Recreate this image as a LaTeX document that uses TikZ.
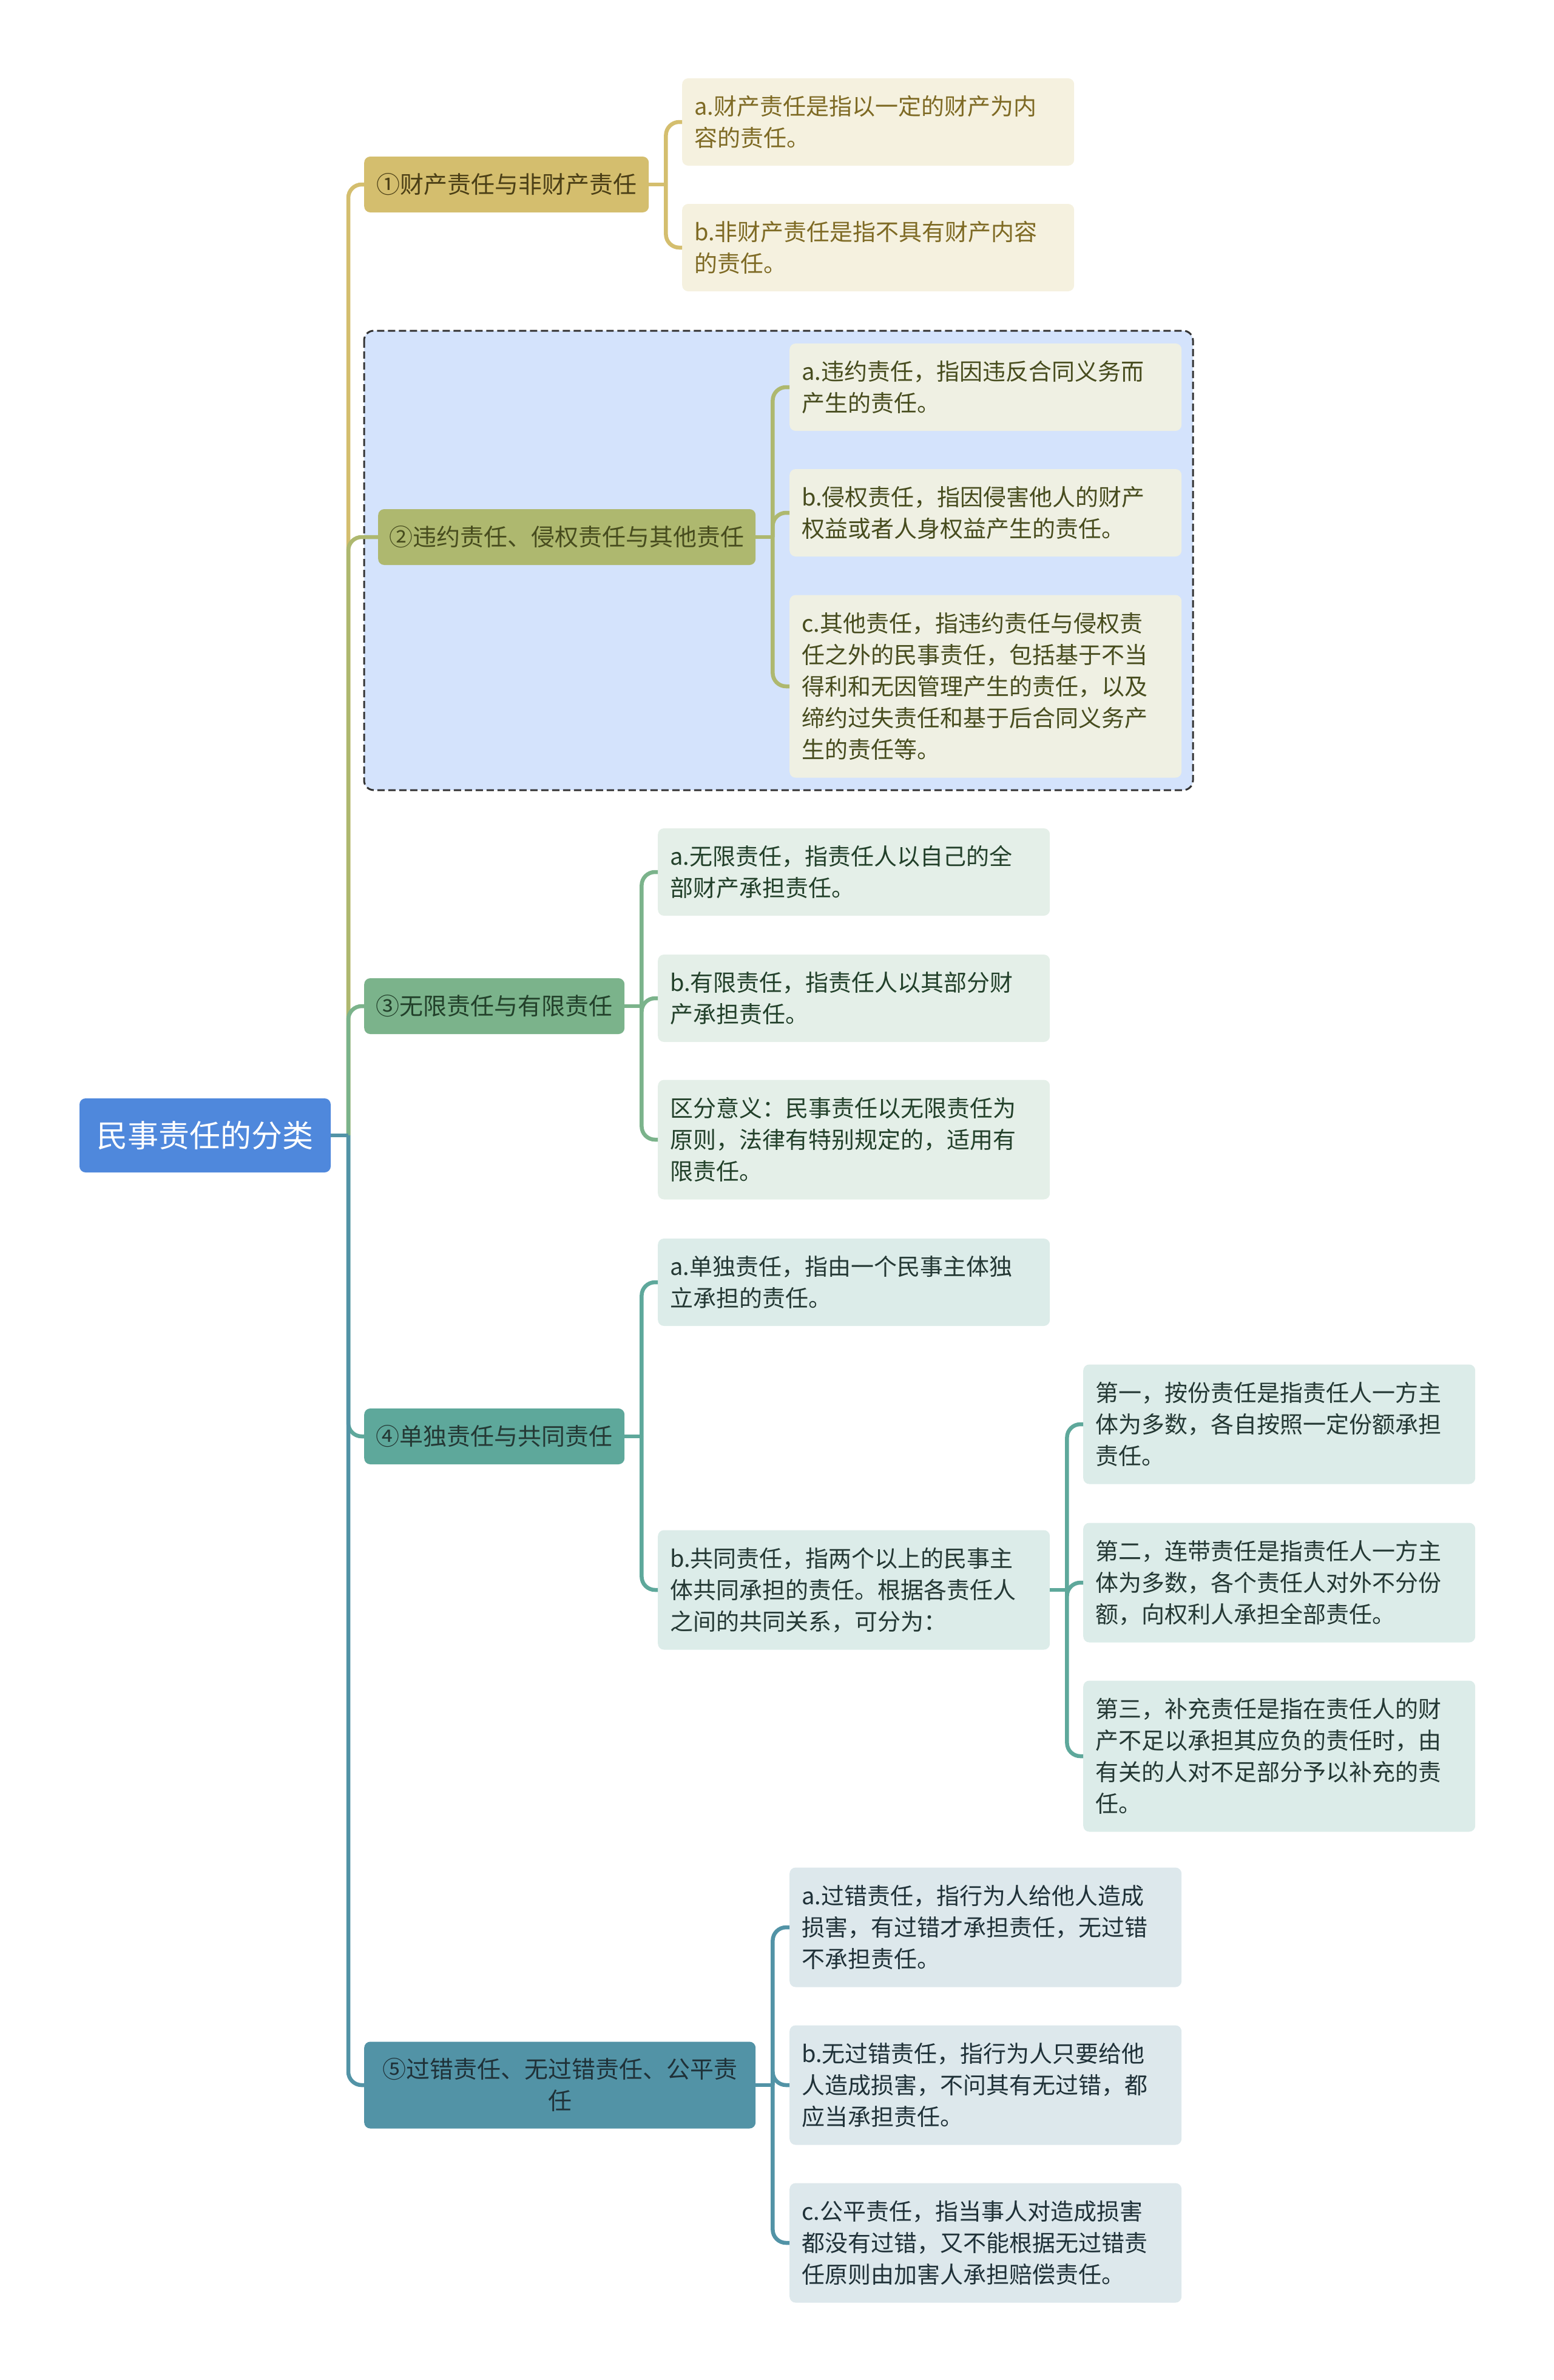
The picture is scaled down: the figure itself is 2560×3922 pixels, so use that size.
\documentclass[tikz,border=0pt]{standalone}
\usepackage{fontspec}
\setmainfont{Noto Sans CJK SC}
\definecolor{cRoot}{HTML}{4F88DC}
\definecolor{cA}{HTML}{D4BE6E}   \definecolor{cAl}{HTML}{F5F1DF} \definecolor{cAt}{HTML}{7E6A24}
\definecolor{cB}{HTML}{AEB86F}   \definecolor{cBl}{HTML}{EFF0E3} \definecolor{cBt}{HTML}{474C1E}
\definecolor{cC}{HTML}{7BB38B}   \definecolor{cCl}{HTML}{E4EFE8} \definecolor{cCt}{HTML}{22402A}
\definecolor{cD}{HTML}{5EA89B}   \definecolor{cDl}{HTML}{DCECE9} \definecolor{cDt}{HTML}{243834}
\definecolor{cE}{HTML}{5293A6}   \definecolor{cEl}{HTML}{DDE8EC} \definecolor{cEt}{HTML}{1F3138}
\definecolor{cGrp}{HTML}{D4E3FC}
\begin{document}
\begin{tikzpicture}[x=1pt,y=-1pt,
    leaf/.style={rectangle,rounded corners=10pt,anchor=west,align=left,
      text width=606pt,inner xsep=20pt,inner ysep=0pt,
      font=\fontsize{38}{52}\selectfont},
    l2/.style={minimum height=144pt},
    l3/.style={minimum height=197pt},
    l4/.style={minimum height=249pt},
    l5/.style={minimum height=301pt},
    brn/.style={rectangle,rounded corners=10pt,anchor=west,align=center,
      inner sep=0pt,minimum height=92pt,font=\fontsize{39}{52}\selectfont},
    lk/.style={line width=6.5pt,rounded corners=22pt},
    grp/.style={fill=cGrp,draw=black!80,line width=3pt,
      dash pattern=on 12pt off 6pt,rounded corners=16pt}]
  \useasboundingbox (0,0) rectangle (2560,3922);
  % group frame behind branch 2
  \draw[grp] (600,545) rectangle (1966,1302);
  % root
  \node[fill=cRoot,text=white,rounded corners=10pt,minimum width=414pt,
    minimum height=122pt,inner sep=0pt,font=\fontsize{51}{60}\selectfont]
    (root) at (338,1871) {民事责任的分类};
  % branches
  \node[brn,fill=cA,text=cAt!60!black,minimum width=469pt] (b1) at (600,304)
    {①财产责任与非财产责任};
  \node[brn,fill=cB,text=cBt,minimum width=622pt] (b2) at (623,885)
    {②违约责任、侵权责任与其他责任};
  \node[brn,fill=cC,text=cCt,minimum width=429pt] (b3) at (600,1658)
    {③无限责任与有限责任};
  \node[brn,fill=cD,text=cDt,minimum width=429pt] (b4) at (600,2367)
    {④单独责任与共同责任};
  \node[brn,fill=cE,text=cEt,minimum width=645pt,minimum height=143pt,
    text width=605pt] (b5) at (600,3436)
    {⑤过错责任、无过错责任、公平责\\任};
  % leaves of branch 1
  \node[leaf,l2,fill=cAl,text=cAt] (b1a) at (1124,201)
    {a.财产责任是指以一定的财产为内\\容的责任。};
  \node[leaf,l2,fill=cAl,text=cAt] (b1b) at (1124,408)
    {b.非财产责任是指不具有财产内容\\的责任。};
  % leaves of branch 2
  \node[leaf,l2,fill=cBl,text=cBt] (b2a) at (1301,638)
    {a.违约责任，指因违反合同义务而\\产生的责任。};
  \node[leaf,l2,fill=cBl,text=cBt] (b2b) at (1301,845)
    {b.侵权责任，指因侵害他人的财产\\权益或者人身权益产生的责任。};
  \node[leaf,l5,fill=cBl,text=cBt] (b2c) at (1301,1131)
    {c.其他责任，指违约责任与侵权责\\任之外的民事责任，包括基于不当\\得利和无因管理产生的责任，以及\\缔约过失责任和基于后合同义务产\\生的责任等。};
  % leaves of branch 3
  \node[leaf,l2,fill=cCl,text=cCt] (b3a) at (1084,1437)
    {a.无限责任，指责任人以自己的全\\部财产承担责任。};
  \node[leaf,l2,fill=cCl,text=cCt] (b3b) at (1084,1645)
    {b.有限责任，指责任人以其部分财\\产承担责任。};
  \node[leaf,l3,fill=cCl,text=cCt] (b3c) at (1084,1878)
    {区分意义：民事责任以无限责任为\\原则，法律有特别规定的，适用有\\限责任。};
  % leaves of branch 4
  \node[leaf,l2,fill=cDl,text=cDt] (b4a) at (1084,2113)
    {a.单独责任，指由一个民事主体独\\立承担的责任。};
  \node[leaf,l3,fill=cDl,text=cDt] (b4b) at (1084,2620)
    {b.共同责任，指两个以上的民事主\\体共同承担的责任。根据各责任人\\之间的共同关系，可分为：};
  \node[leaf,l3,fill=cDl,text=cDt] (b4b1) at (1785,2347)
    {第一，按份责任是指责任人一方主\\体为多数，各自按照一定份额承担\\责任。};
  \node[leaf,l3,fill=cDl,text=cDt] (b4b2) at (1785,2608)
    {第二，连带责任是指责任人一方主\\体为多数，各个责任人对外不分份\\额，向权利人承担全部责任。};
  \node[leaf,l4,fill=cDl,text=cDt] (b4b3) at (1785,2894)
    {第三，补充责任是指在责任人的财\\产不足以承担其应负的责任时，由\\有关的人对不足部分予以补充的责\\任。};
  % leaves of branch 5
  \node[leaf,l3,fill=cEl,text=cEt] (b5a) at (1301,3176)
    {a.过错责任，指行为人给他人造成\\损害，有过错才承担责任，无过错\\不承担责任。};
  \node[leaf,l3,fill=cEl,text=cEt] (b5b) at (1301,3436)
    {b.无过错责任，指行为人只要给他\\人造成损害，不问其有无过错，都\\应当承担责任。};
  \node[leaf,l3,fill=cEl,text=cEt] (b5c) at (1301,3696)
    {c.公平责任，指当事人对造成损害\\都没有过错，又不能根据无过错责\\任原则由加害人承担赔偿责任。};
  % trunk from the root
  \coordinate (t) at (574,1871);
  \foreach \b/\col in {b1/cA, b2/cB, b3/cC, b4/cD, b5/cE}
    \draw[lk,\col] (t) |- (\b.west);
  \draw[lk,cE] (root.east) -- (t);
  % forks to the leaves
  \foreach \p/\col in {b1/cA, b2/cB, b3/cC, b4/cD, b5/cE}
    \coordinate (j\p) at ([xshift=28pt]\p.east);
  \foreach \c in {b1a,b1b} \draw[lk,cA] (jb1) |- (\c.west);
  \foreach \c in {b2a,b2b,b2c} \draw[lk,cB] (jb2) |- (\c.west);
  \foreach \c in {b3a,b3b,b3c} \draw[lk,cC] (jb3) |- (\c.west);
  \foreach \c in {b4a,b4b} \draw[lk,cD] (jb4) |- (\c.west);
  \foreach \c in {b5a,b5b,b5c} \draw[lk,cE] (jb5) |- (\c.west);
  \draw[lk,cA] (b1.east) -- (jb1);
  \draw[lk,cB] (b2.east) -- (jb2);
  \draw[lk,cC] (b3.east) -- (jb3);
  \draw[lk,cD] (b4.east) -- (jb4);
  \draw[lk,cE] (b5.east) -- (jb5);
  % second level fork under b4b
  \coordinate (jb4b) at ([xshift=28pt]b4b.east);
  \foreach \c in {b4b1,b4b2,b4b3} \draw[lk,cD] (jb4b) |- (\c.west);
  \draw[lk,cD] (b4b.east) -- (jb4b);
\end{tikzpicture}
\end{document}
